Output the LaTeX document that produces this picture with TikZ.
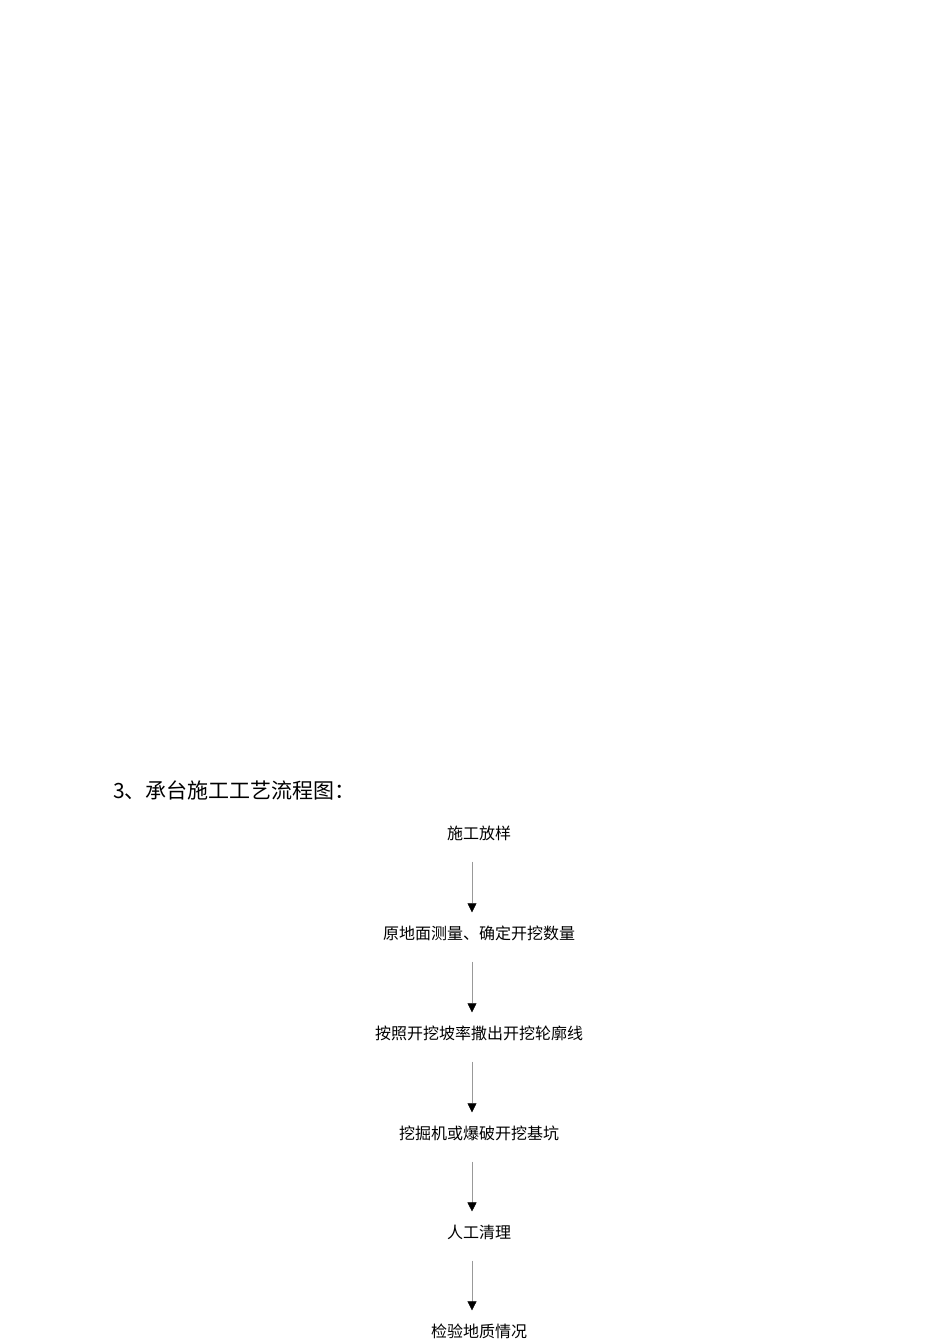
\documentclass[tikz,border=0pt]{standalone}
\usepackage{fontspec}
\newfontfamily\cjk{Noto Sans CJK SC}
\usetikzlibrary{arrows.meta}

\begin{document}
\begin{tikzpicture}[x=1pt, y=-1pt,
  stepbox/.style={font=\cjk\fontsize{16}{16}\selectfont, inner sep=0pt, anchor=center},
  flow/.style={draw=gray!80, line width=0.5pt, -{Triangle[length=9pt,width=9pt,color=black]},
               shorten <=21pt, shorten >=13pt}]

\useasboundingbox (0,0) rectangle (950,1344);

\node [font=\cjk\fontsize{21}{21}\selectfont, anchor=west, inner sep=0pt] (title) at (113, 790) {3、承台施工工艺流程图：};

\node [stepbox] (s1) at (479, 833) {施工放样};
\node [stepbox] (s2) at (479, 933) {原地面测量、确定开挖数量};
\node [stepbox] (s3) at (479, 1033) {按照开挖坡率撒出开挖轮廓线};
\node [stepbox] (s4) at (479, 1133) {挖掘机或爆破开挖基坑};
\node [stepbox] (s5) at (479, 1232) {人工清理};
\node [stepbox] (s6) at (479, 1331) {检验地质情况};

% arrows
\foreach \a/\b in {s1/s2, s2/s3, s3/s4, s4/s5, s5/s6}
  \draw [flow] ([xshift=-7pt]\a.south) -- ([xshift=-7pt]\b.north);

\end{tikzpicture}
\end{document}
